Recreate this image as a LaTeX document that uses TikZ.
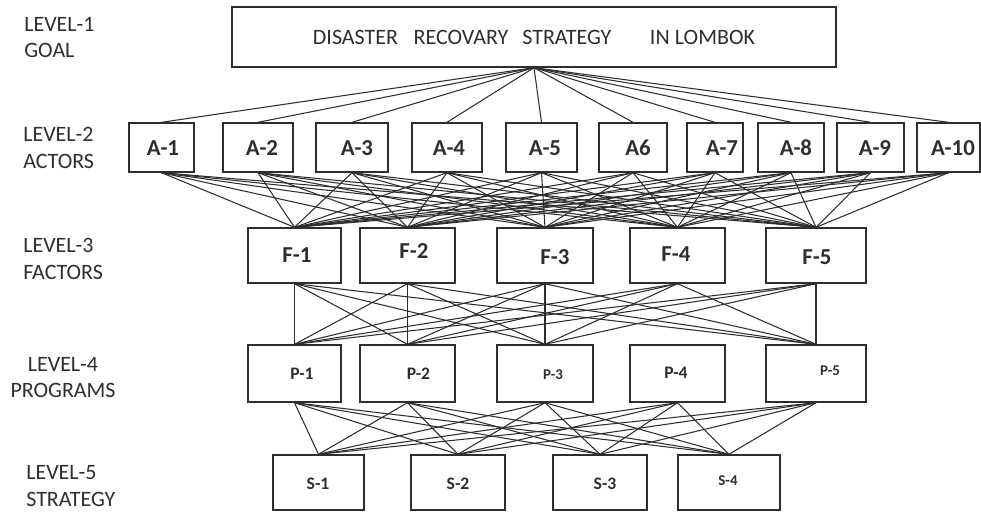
\documentclass[tikz,border=0pt]{standalone}
\usepackage{fontspec}
\setmainfont{Carlito}

\definecolor{inkgray}{HTML}{2E2E2E}
\newcommand{\pxu}{0.02cm}

\begin{document}
\begin{tikzpicture}[x=0.02cm,y=-0.02cm,
  box/.style={draw=inkgray,line width=0.8pt,inner sep=0pt},
  wire/.style={draw=inkgray,line width=0.6pt},
  lvl/.style={text=inkgray,font=\fontsize{12.5}{15}\selectfont,inner sep=0pt},
  boxtxt/.style={text=inkgray,inner sep=0pt,font=\fontsize{13}{15}\selectfont\bfseries},
  smalltxt/.style={text=inkgray,inner sep=0pt,font=\fontsize{10}{12}\selectfont\bfseries},
  tinytxt/.style={text=inkgray,inner sep=0pt,font=\fontsize{8.5}{10}\selectfont\bfseries}]
\useasboundingbox (0,0) rectangle (981,511);

% level names on the left
\node[lvl,anchor=west,align=left] (lv1) at (24,37.5) {LEVEL-1\\GOAL};
\node[lvl,anchor=west,align=left] (lv2) at (23,148) {LEVEL-2\\ACTORS};
\node[lvl,anchor=west,align=left] (lv3) at (23,259) {LEVEL-3\\FACTORS};
\node[lvl,align=center] (lv4) at (63,377.5) {LEVEL-4\\PROGRAMS};
\node[lvl,anchor=west,align=left] (lv5) at (26,486) {LEVEL-5\\STRATEGY};

% goal
\node[box,minimum width=604*\pxu,minimum height=60*\pxu,text=inkgray,
  font=\fontsize{12.5}{15}\selectfont] (goal) at (534,37)
  {DISASTER\hspace{9pt}RECOVARY\hspace{8pt}STRATEGY\hspace{22pt}IN\hspace{3pt}LOMBOK};

% actors
\foreach \n/\cx/\w/\t/\dx in {1/161.5/65/A-1/1.5, 2/258/70/A-2/4, 3/352/72/A-3/5,
    4/447/70/A-4/2, 5/541.5/71/A-5/3.5, 6/633/68/A6/5, 7/715/56/A-7/7,
    8/791/66/A-8/5, 9/870.5/67/A-9/4.5, 10/948.5/63/A-10/4.5}
  \node[box,minimum width=\w*\pxu,minimum height=49*\pxu,
    label={[boxtxt,shift={(\dx,0.5)}]center:\t}] (a\n) at (\cx,147.5) {};

% factors
\foreach \n/\cx/\w/\t/\dx/\dy in {1/294.5/93/F-1/2.5/-0.5, 2/407.5/95/F-2/6.5/-4.5,
    3/545/96/F-3/10/1.5, 4/677.5/95/F-4/-1.5/-1.5, 5/816/100/F-5/1/1.5}
  \node[box,minimum width=\w*\pxu,minimum height=55*\pxu,
    label={[boxtxt,shift={(\dx,\dy)}]center:\t}] (f\n) at (\cx,255.5) {};

% programs
\foreach \n/\cx/\w/\t/\dx/\dy/\st in {1/294.5/93/P-1/7.5/0.5/smalltxt,
    2/407.5/95/P-2/11/0/smalltxt, 3/545/96/P-3/8/1.5/tinytxt,
    4/677.5/95/P-4/-1.5/-0.5/smalltxt, 5/816/100/P-5/14/-2.5/tinytxt}
  \node[box,minimum width=\w*\pxu,minimum height=57*\pxu,
    label={[\st,shift={(\dx,\dy)}]center:\t}] (p\n) at (\cx,373.5) {};

% strategies
\foreach \n/\cx/\w/\t/\dx/\dy/\st in {1/318.5/91/S-1/-0.5/1.5/smalltxt,
    2/458/94/S-2/0/1.5/smalltxt, 3/600/94/S-3/5/1.5/smalltxt,
    4/729/102/S-4/-1/-1.5/tinytxt}
  \node[box,minimum width=\w*\pxu,minimum height=55*\pxu,
    label={[\st,shift={(\dx,\dy)}]center:\t}] (s\n) at (\cx,482.5) {};

% connectors
\foreach \i in {1,...,10}
  \draw[wire] (goal.south) -- (a\i.north);
\foreach \i in {1,...,10}
  \foreach \j in {1,...,5}
    \draw[wire] (a\i.south) -- (f\j.north);
\foreach \i in {1,...,5}
  \foreach \j in {1,2,3,5}
    \draw[wire] (f\i.south) -- (p\j.north);
\foreach \i in {1,...,5}
  \foreach \j in {1,...,4}
    \draw[wire] (p\i.south) -- (s\j.north);
\end{tikzpicture}
\end{document}
